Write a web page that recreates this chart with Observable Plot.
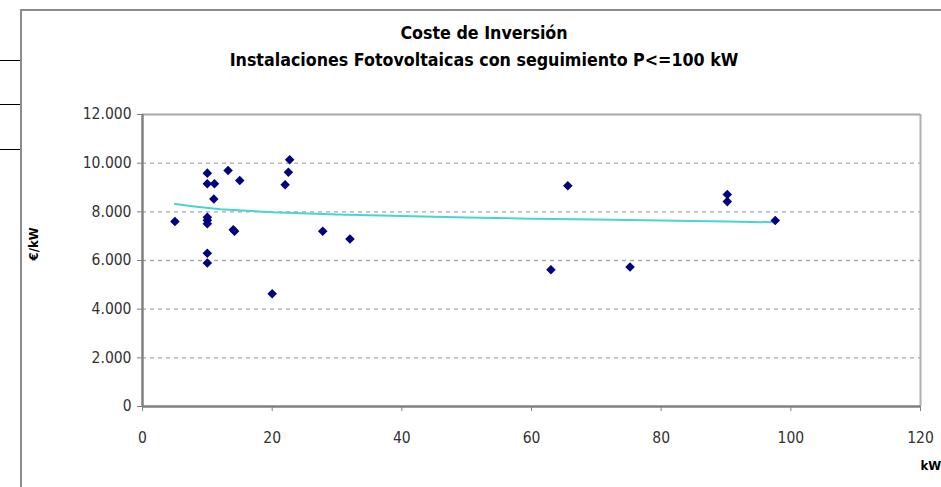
<!DOCTYPE html>
<html>
<head>
<meta charset="utf-8">
<script src="https://cdn.jsdelivr.net/npm/d3@7"></script>
<script src="https://cdn.jsdelivr.net/npm/@observablehq/plot@0.6"></script>
<style>
  html, body { margin: 0; padding: 0; background: #fff; overflow: hidden; }
  #page { position: relative; width: 941px; height: 487px; overflow: hidden; background: #fff; }
  #frame { position: absolute; left: 20px; top: 9px; width: 960px; height: 520px; border-left: 2px solid #8c8c8c; border-top: 2px solid #8c8c8c; box-sizing: border-box; }
  .stray { position: absolute; left: 0; width: 20px; height: 1px; background: #000; }
  .ttl { position: absolute; left: 0; width: 968px; text-align: center; font-family: "DejaVu Sans Condensed", "DejaVu Sans", sans-serif; font-weight: bold; color: #000; white-space: nowrap; }
  #chart { position: absolute; left: 0; top: 80px; }
</style>
</head>
<body>
<div id="page">
  <div class="stray" style="top:60px"></div>
  <div class="stray" style="top:104px"></div>
  <div class="stray" style="top:149px"></div>
  <div id="frame"></div>
  <div class="ttl" id="t1" style="top:23px; font-size:17.7px;">Coste de Inversión</div>
  <div class="ttl" id="t2" style="top:50px; font-size:17.7px;">Instalaciones Fotovoltaicas con seguimiento P&lt;=100 kW</div>
  <div id="chart"></div>
</div>
<script>
// Scatter data (kW, €/kW)
const powerKW = [5, 10, 10, 11.1, 11, 10, 10, 10, 10, 10, 13.2, 14, 14.2, 15, 20, 22, 22.5, 22.7, 27.8, 32, 63, 65.6, 75.2, 90.2, 90.2, 97.6];
const costEurKW = [7600, 9590, 9150, 9150, 8530, 7780, 7650, 7510, 6300, 5900, 9700, 7260, 7200, 9290, 4630, 9110, 9630, 10140, 7200, 6880, 5620, 9070, 5730, 8710, 8420, 7640];

// Trend line
const trendKW = [5, 8, 12, 20, 30, 40, 50, 60, 70, 80, 90, 97.6];
const trendEurKW = [8320, 8220, 8110, 7980, 7890, 7830, 7770, 7720, 7680, 7640, 7600, 7570];

// Axis ticks
const xTicks = [0, 20, 40, 60, 80, 100, 120];
const yTicks = [0, 2000, 4000, 6000, 8000, 10000, 12000];
const yTickLabels = ["0", "2.000", "4.000", "6.000", "8.000", "10.000", "12.000"];

const points = powerKW.map((x, i) => ({x, y: costEurKW[i]}));
const trend = trendKW.map((x, i) => ({x, y: trendEurKW[i]}));

const font = '"DejaVu Sans Condensed", "DejaVu Sans", sans-serif';

const chart = Plot.plot({
  width: 941,
  height: 407,
  marginLeft: 142,
  marginRight: 21,
  marginTop: 34,
  marginBottom: 81,
  style: {fontFamily: font, fontSize: "15.5px", color: "#333", background: "transparent", overflow: "visible"},
  x: {domain: [0, 120]},
  y: {domain: [0, 12000]},
  marks: [
    Plot.ruleY(yTicks.filter(d => d > 0 && d < 12000), {stroke: "#a8a8a8", strokeDasharray: "4,4", strokeWidth: 1.3}),
    Plot.ruleY([12000], {stroke: "#a8a8a8", strokeWidth: 2}),
    Plot.ruleX([120], {stroke: "#b0b0b0", strokeWidth: 2}),
    Plot.axisX({ticks: xTicks, tickSize: 5, tickPadding: 20, label: null, stroke: "#808080", fill: "#333"}),
    Plot.axisY({ticks: yTicks, tickSize: 5, tickPadding: 6, label: null, stroke: "#808080", fill: "#333",
      tickFormat: d => yTickLabels[yTicks.indexOf(d)]}),
    Plot.ruleX([0], {stroke: "#808080", strokeWidth: 2.5}),
    Plot.ruleY([0], {stroke: "#808080", strokeWidth: 2.5}),
    Plot.line(trend, {x: "x", y: "y", stroke: "#48d4d4", strokeWidth: 2}),
    Plot.dot(points, {x: "x", y: "y", symbol: "diamond2", r: 4.3, fill: "#000080", stroke: "none"}),
    Plot.text(["€/kW"], {frameAnchor: "left", dx: -109, rotate: -90, fontWeight: "bold", fontSize: 13, fill: "#000"}),
    Plot.text(["kW"], {frameAnchor: "bottom-right", dx: 0, dy: 63, textAnchor: "start", fontWeight: "bold", fontSize: 13, fill: "#000"})
  ]
});
document.getElementById("chart").appendChild(chart);
</script>
</body>
</html>
